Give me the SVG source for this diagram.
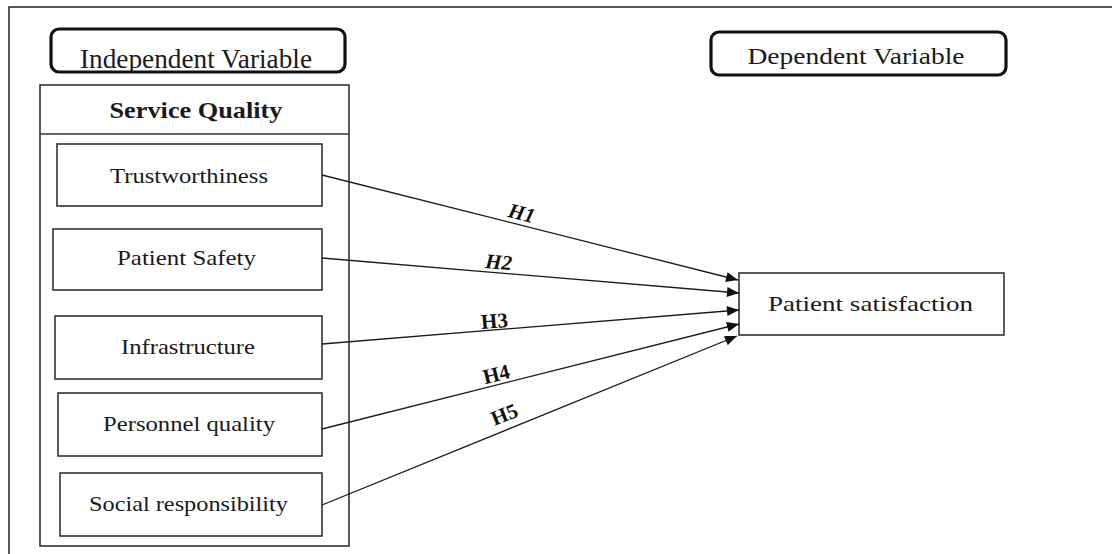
<svg xmlns="http://www.w3.org/2000/svg" width="1112" height="554" viewBox="0 0 1112 554">
  <style>
    .frame { fill: none; stroke: #222; stroke-width: 1.5; }
    .box { fill: #fff; stroke: #333; stroke-width: 1.6; }
    .rbox { fill: #fff; stroke: #111; stroke-width: 3.2; }
    .t { font-family: "Liberation Serif", "Times New Roman", serif; fill: #1a1a1a; }
    .lbl { font-family: "Liberation Serif", "Times New Roman", serif; font-weight: bold; font-size: 21px; fill: #111; }
    .edge { stroke: #1a1a1a; stroke-width: 1.3; fill: none; marker-end: url(#arrow); }
  </style>
  <defs>
    <marker id="arrow" viewBox="0 0 12 10" refX="12" refY="5" markerWidth="13" markerHeight="10" markerUnits="userSpaceOnUse" orient="auto">
      <path d="M0,0 L12,5 L0,10 Z" fill="#111"/>
    </marker>
    <clipPath id="clipInd"><rect x="52" y="30" width="292" height="41"/></clipPath>
    <clipPath id="clipDep"><rect x="712" y="33" width="293" height="41"/></clipPath>
  </defs>
  <rect x="0" y="0" width="1112" height="554" fill="#fff"/>
  <path class="frame" d="M9,554 L9,7 L1112,7"/>

  <g id="independent-variable">
    <rect class="rbox" x="51" y="29" width="294" height="43" rx="8"/>
    <text class="t" x="196" y="68" font-size="27" text-anchor="middle" textLength="232" lengthAdjust="spacingAndGlyphs" clip-path="url(#clipInd)">Independent Variable</text>
  </g>

  <g id="dependent-variable">
    <rect class="rbox" x="711" y="32" width="295" height="43" rx="8"/>
    <text class="t" x="856" y="64" font-size="23" text-anchor="middle" textLength="217" lengthAdjust="spacingAndGlyphs" clip-path="url(#clipDep)">Dependent Variable</text>
  </g>

  <g id="service-quality">
    <rect class="box" x="40" y="85" width="309" height="461"/>
    <line class="box" x1="40" y1="134" x2="349" y2="134"/>
    <text class="t" x="196" y="118" font-size="23" font-weight="bold" text-anchor="middle" textLength="173" lengthAdjust="spacingAndGlyphs">Service Quality</text>
  </g>

  <g id="trustworthiness">
    <rect class="box" x="57" y="144" width="265" height="62"/>
    <text class="t" x="189" y="183" font-size="21" text-anchor="middle" textLength="158" lengthAdjust="spacingAndGlyphs">Trustworthiness</text>
  </g>

  <g id="patient-safety">
    <rect class="box" x="53" y="229" width="269" height="61"/>
    <text class="t" x="186.5" y="265" font-size="21" text-anchor="middle" textLength="139" lengthAdjust="spacingAndGlyphs">Patient Safety</text>
  </g>

  <g id="infrastructure">
    <rect class="box" x="55" y="316" width="267" height="63"/>
    <text class="t" x="188" y="354" font-size="21" text-anchor="middle" textLength="134" lengthAdjust="spacingAndGlyphs">Infrastructure</text>
  </g>

  <g id="personnel-quality">
    <rect class="box" x="58" y="393" width="264" height="63"/>
    <text class="t" x="189" y="431" font-size="21" text-anchor="middle" textLength="172" lengthAdjust="spacingAndGlyphs">Personnel quality</text>
  </g>

  <g id="social-responsibility">
    <rect class="box" x="60" y="473" width="262" height="63"/>
    <text class="t" x="188.5" y="511" font-size="21" text-anchor="middle" textLength="199" lengthAdjust="spacingAndGlyphs">Social responsibility</text>
  </g>

  <g id="patient-satisfaction">
    <rect class="box" x="739" y="273" width="265" height="62"/>
    <text class="t" x="870.5" y="311" font-size="22" text-anchor="middle" textLength="205" lengthAdjust="spacingAndGlyphs">Patient satisfaction</text>
  </g>

  <g id="connectors">
    <line class="edge" x1="322" y1="175" x2="738" y2="280"/>
    <line class="edge" x1="322" y1="258" x2="739" y2="293"/>
    <line class="edge" x1="322" y1="344" x2="739" y2="310"/>
    <line class="edge" x1="322" y1="429" x2="739" y2="324"/>
    <line class="edge" x1="322" y1="505" x2="737" y2="336"/>
    <text class="lbl" font-style="italic" transform="translate(520,220) rotate(14.2)" text-anchor="middle">H1</text>
    <text class="lbl" font-style="italic" transform="translate(498,269) rotate(4.8)" text-anchor="middle">H2</text>
    <text class="lbl" transform="translate(495,328) rotate(-4.6)" text-anchor="middle">H3</text>
    <text class="lbl" transform="translate(498,381) rotate(-14)" text-anchor="middle">H4</text>
    <text class="lbl" transform="translate(507,421) rotate(-22)" text-anchor="middle">H5</text>
  </g>
</svg>
